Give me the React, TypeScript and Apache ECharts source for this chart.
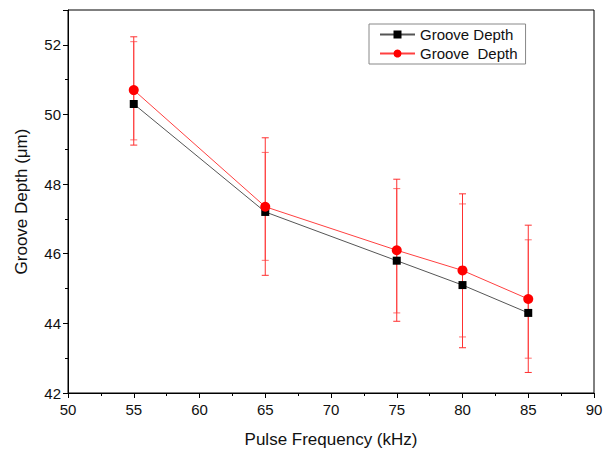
import React, { useEffect, useRef } from "react";
import * as echarts from "echarts";

const frequencies = [55, 65, 75, 80, 85];
const blackDepth = [50.3, 47.2, 45.8, 45.1, 44.3];
const redDepth = [50.7, 47.35, 46.1, 45.52, 44.7];
const blackHigh = [52.09, 48.91, 47.87, 47.43, 46.4];
const blackLow = [49.27, 45.81, 44.3, 43.61, 43.0];
const redHigh = [52.23, 49.33, 48.14, 47.72, 46.82];
const redLow = [49.12, 45.38, 44.06, 43.3, 42.59];
const xTicks = [50, 90, 5];
const yTicks = [42, 53, 2];

const FONT = "Liberation Sans, Arial, sans-serif";

function errorSeries(name: string, low: number[], high: number[], color: string) {
  return {
    type: "custom",
    name,
    z: 1,
    data: frequencies.map((f, i) => [f, low[i], high[i]]),
    renderItem: (params: any, api: any) => {
      const x = api.value(0);
      const lo = api.coord([x, api.value(1)]);
      const hi = api.coord([x, api.value(2)]);
      const w = 3.5;
      const style = { stroke: color, lineWidth: 1, fill: "none" };
      return {
        type: "group",
        children: [
          { type: "line", shape: { x1: lo[0], y1: lo[1], x2: hi[0], y2: hi[1] }, style },
          { type: "line", shape: { x1: lo[0] - w, y1: lo[1], x2: lo[0] + w, y2: lo[1] }, style },
          { type: "line", shape: { x1: hi[0] - w, y1: hi[1], x2: hi[0] + w, y2: hi[1] }, style },
        ],
      };
    },
    silent: true,
  };
}

export default function App() {
  const ref = useRef<HTMLDivElement>(null);
  useEffect(() => {
    if (!ref.current) return;
    const chart = echarts.init(ref.current, undefined, { renderer: "svg" });
    chart.setOption({
      animation: false,
      textStyle: { fontFamily: FONT },
      grid: {
        left: 68,
        right: 15,
        top: 10,
        bottom: 57,
        show: true,
        borderColor: "#000",
        borderWidth: 1,
        backgroundColor: "transparent",
      },
      legend: {
        orient: "vertical",
        left: 369,
        top: 24,
        data: ["Groove Depth", "Groove  Depth"],
        borderColor: "#888",
        borderWidth: 1,
        borderRadius: 0,
        padding: [3, 8, 3, 10],
        itemGap: 4,
        itemWidth: 35,
        itemHeight: 10,
        textStyle: { fontSize: 15, color: "#111", fontFamily: FONT },
      },
      xAxis: {
        type: "value",
        min: xTicks[0],
        max: xTicks[1],
        interval: xTicks[2],
        name: "Pulse Frequency (kHz)",
        nameLocation: "middle",
        nameGap: 38,
        nameTextStyle: { fontSize: 17, color: "#111", fontFamily: FONT },
        axisLine: { lineStyle: { color: "#000", width: 1 } },
        axisTick: { show: true, inside: false, length: 5, lineStyle: { color: "#000" } },
        minorTick: { show: true, splitNumber: 2, length: 3, lineStyle: { color: "#000" } },
        axisLabel: { fontSize: 15, color: "#111", margin: 9, fontFamily: FONT },
        splitLine: { show: false },
      },
      yAxis: {
        type: "value",
        min: yTicks[0],
        max: yTicks[1],
        interval: yTicks[2],
        name: "Groove Depth (μm)",
        nameLocation: "middle",
        nameGap: 38,
        nameTextStyle: { fontSize: 17, color: "#111", fontFamily: FONT },
        axisLine: { lineStyle: { color: "#000", width: 1 } },
        axisTick: { show: true, inside: false, length: 5, lineStyle: { color: "#000" } },
        minorTick: { show: true, splitNumber: 2, length: 3, lineStyle: { color: "#000" } },
        axisLabel: { fontSize: 15, color: "#111", margin: 7, showMaxLabel: false, fontFamily: FONT },
        splitLine: { show: false },
      },
      series: [
        errorSeries("err-black", blackLow, blackHigh, "#ff7070"),
        errorSeries("err-red", redLow, redHigh, "#ff3030"),
        {
          type: "line",
          name: "Groove Depth",
          z: 3,
          data: frequencies.map((f, i) => [f, blackDepth[i]]),
          symbol: "rect",
          symbolSize: 8,
          itemStyle: { color: "#000" },
          lineStyle: { color: "#555", width: 1 },
        },
        {
          type: "line",
          name: "Groove  Depth",
          z: 4,
          data: frequencies.map((f, i) => [f, redDepth[i]]),
          symbol: "circle",
          symbolSize: 10,
          itemStyle: { color: "#ff0000" },
          lineStyle: { color: "#ff4040", width: 1 },
        },
      ],
    });
    return () => chart.dispose();
  }, []);
  return (
    <div
      ref={ref}
      style={{ position: "absolute", left: 0, top: 0, width: 609, height: 453 }}
    />
  );
}
